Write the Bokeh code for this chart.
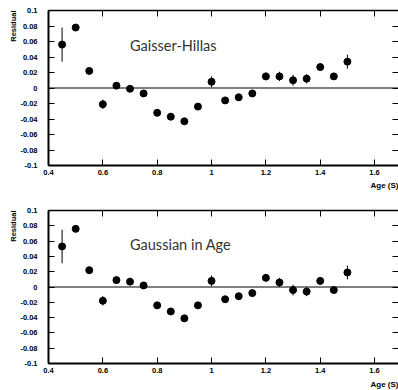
from bokeh.plotting import figure
from bokeh.models import (FixedTicker, LinearAxis, Span, Label, Range1d,
                          ColumnDataSource, Title, CustomLabelingPolicy)
from bokeh.layouts import column
from bokeh.embed import file_html
from bokeh.resources import INLINE

# ---- data ----
age = [0.45, 0.5, 0.55, 0.6, 0.65, 0.7, 0.75, 0.8, 0.85, 0.9, 0.95,
       1.0, 1.05, 1.1, 1.15, 1.2, 1.25, 1.3, 1.35, 1.4, 1.45, 1.5]
gh_res = [0.056, 0.078, 0.022, -0.021, 0.003, -0.001, -0.007, -0.032, -0.037, -0.043, -0.024,
          0.008, -0.016, -0.012, -0.007, 0.015, 0.015, 0.010, 0.012, 0.027, 0.015, 0.034]
gh_err = [0.022, 0.003, 0.004, 0.006, 0.004, 0.003, 0.003, 0.003, 0.003, 0.003, 0.004,
          0.007, 0.004, 0.003, 0.004, 0.005, 0.006, 0.007, 0.006, 0.005, 0.003, 0.009]
ga_res = [0.053, 0.076, 0.022, -0.018, 0.009, 0.007, 0.002, -0.024, -0.032, -0.041, -0.024,
          0.008, -0.016, -0.012, -0.008, 0.012, 0.006, -0.004, -0.006, 0.008, -0.004, 0.019]
ga_err = [0.022, 0.003, 0.004, 0.006, 0.004, 0.003, 0.003, 0.003, 0.003, 0.003, 0.004,
          0.007, 0.004, 0.003, 0.004, 0.005, 0.006, 0.007, 0.006, 0.005, 0.003, 0.009]

x_ticks = [0.4, 0.6, 0.8, 1.0, 1.2, 1.4, 1.6]
x_tick_labels = ["0.4", "0.6", "0.8", "1", "1.2", "1.4", "1.6"]
y_ticks = [-0.1, -0.08, -0.06, -0.04, -0.02, 0, 0.02, 0.04, 0.06, 0.08, 0.1]
y_tick_labels = ["-0.1", "-0.08", "-0.06", "-0.04", "-0.02", "0",
                 "0.02", "0.04", "0.06", "0.08", "0.1"]
panel_titles = ["Gaisser-Hillas", "Gaussian in Age"]
x_title = "Age (S)"
y_title = "Residual"

X_START, X_END = 0.4, 1.688
Y_START, Y_END = -0.1, 0.1
W = 398
LEFT = 48

TICK_FONT = "Liberation Sans"


def style_axis(ax, labels=True, line_width=2):
    ax.major_tick_in = 6
    ax.major_tick_out = 0
    ax.minor_tick_in = 0
    ax.minor_tick_out = 0
    ax.axis_line_width = line_width
    ax.axis_line_color = "black"
    ax.major_tick_line_color = "black"
    ax.major_tick_line_width = 1
    if labels:
        ax.major_label_text_font = TICK_FONT
        ax.major_label_text_font_style = "bold"
        ax.major_label_text_font_size = "7.5px"
        ax.major_label_text_color = "black"
    else:
        ax.major_label_policy = CustomLabelingPolicy(code="return []")
        ax.major_label_standoff = 0
        ax.major_label_text_font_size = "0px"


def make_panel(res, err, title, height, top, bottom, xt_standoff):
    p = figure(width=W, height=height,
               x_range=Range1d(X_START, X_END), y_range=Range1d(Y_START, Y_END),
               min_border_left=LEFT, min_border_right=0,
               min_border_top=top, min_border_bottom=bottom,
               toolbar_location=None, output_backend="svg",
               outline_line_color=None, background_fill_color="white",
               border_fill_color="white")
    p.xgrid.visible = False
    p.ygrid.visible = False

    xa = p.xaxis[0]
    xa.ticker = FixedTicker(ticks=x_ticks)
    xa.major_label_overrides = dict(zip(x_ticks, x_tick_labels))
    style_axis(xa)
    xa.major_label_standoff = 4

    ya = p.yaxis[0]
    ya.ticker = FixedTicker(ticks=y_ticks)
    ya.major_label_overrides = dict(zip(y_ticks, y_tick_labels))
    style_axis(ya)
    ya.major_label_standoff = 11

    top_ax = LinearAxis(ticker=FixedTicker(ticks=x_ticks))
    style_axis(top_ax, labels=False, line_width=1.5)
    p.add_layout(top_ax, "above")

    right_ax = LinearAxis(ticker=FixedTicker(ticks=y_ticks))
    style_axis(right_ax, labels=False)
    right_ax.axis_line_color = None
    p.add_layout(right_ax, "right")

    p.add_layout(Span(location=0, dimension="width", line_color="black", line_width=1.2))

    src = ColumnDataSource(dict(
        x=age, y=res,
        lo=[r - e for r, e in zip(res, err)],
        hi=[r + e for r, e in zip(res, err)]))
    p.segment(x0="x", y0="lo", x1="x", y1="hi", source=src, line_color="black", line_width=1)
    p.scatter(x="x", y="y", source=src, size=7, marker="circle",
              fill_color="black", line_color="black")

    p.add_layout(Title(text=y_title, align="right", text_font=TICK_FONT,
                       text_font_style="bold", text_font_size="7.5px",
                       text_color="black", standoff=0, offset=0), "left")
    p.add_layout(Title(text=x_title, align="right", text_font=TICK_FONT,
                       text_font_style="bold", text_font_size="8px",
                       text_color="black", standoff=xt_standoff, offset=0), "below")
    p.add_layout(Label(x=0.70, y=0.055, text=title,
                       text_align="left", text_baseline="middle",
                       text_font="Lato", text_font_size="14.5px", text_color="#333333"))
    return p


p1 = make_panel(gh_res, gh_err, panel_titles[0], 195, 10, 30, 2)
p2 = make_panel(ga_res, ga_err, panel_titles[1], 195, 15, 27, 4)

layout = column(p1, p2, spacing=0)
open("out.html", "w").write(file_html(layout, INLINE))
